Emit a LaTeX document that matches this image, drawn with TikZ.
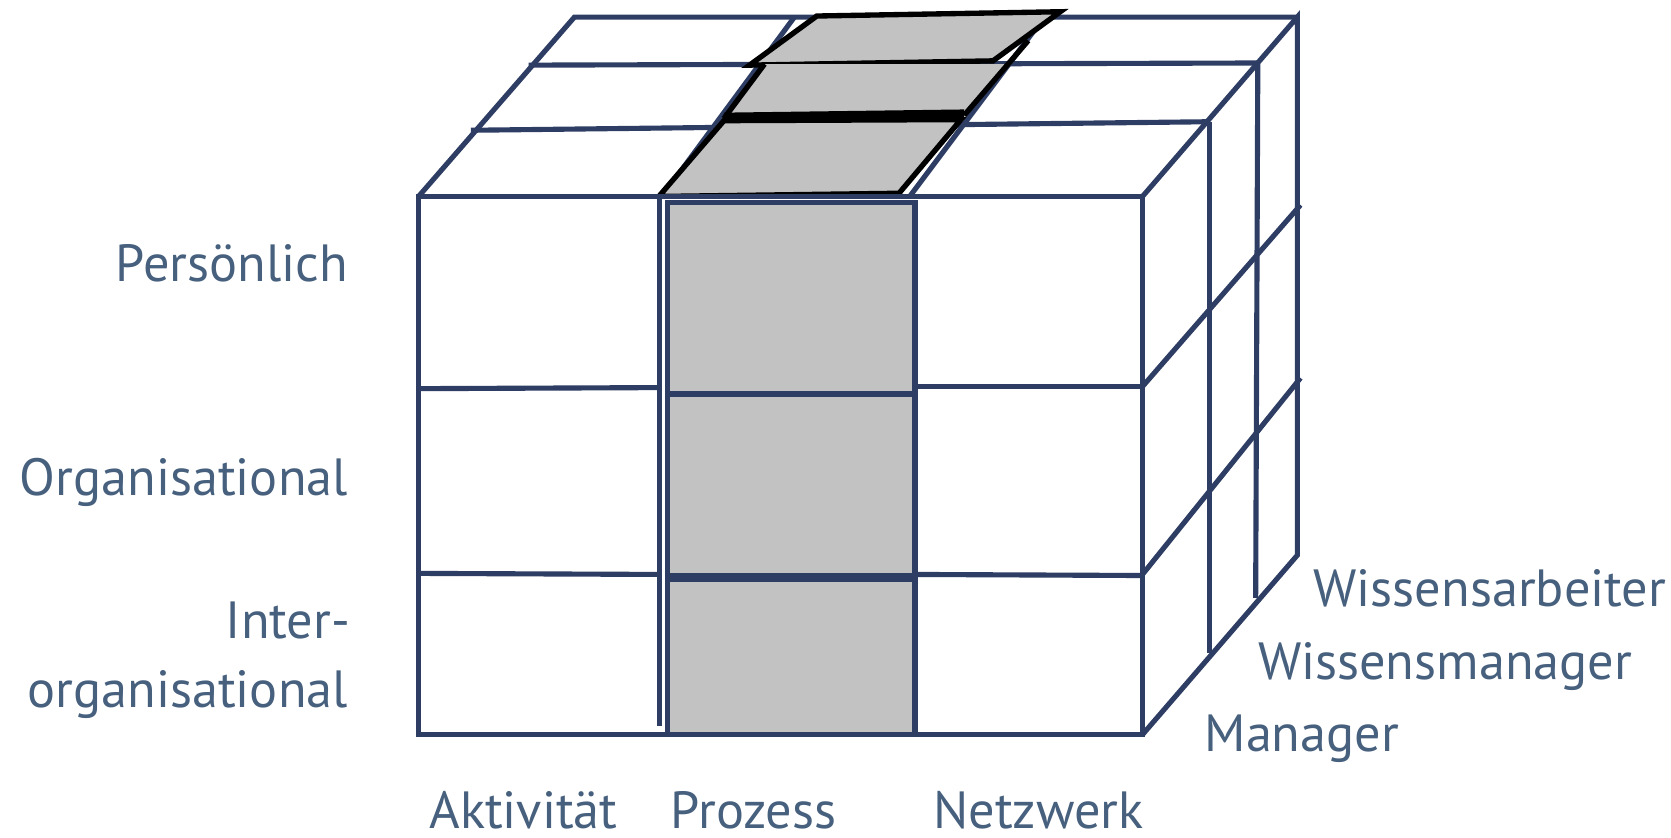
\documentclass[tikz,border=0pt]{standalone}
\usepackage{fontspec}
\setmainfont{PT Sans}
\definecolor{navy}{HTML}{2E3D63}
\definecolor{txt}{HTML}{46607E}
\definecolor{cellgray}{HTML}{C2C2C2}
\begin{document}
\begin{tikzpicture}[x=1pt,y=-1pt,
  grid/.style={draw=navy,line width=4.8pt,line join=miter},
  blk/.style={draw=black,line width=5pt,fill=cellgray,line join=miter},
  lbl/.style={text=txt,font=\fontsize{49}{58}\selectfont,inner sep=0pt,text depth=0pt}]
\useasboundingbox (0,0) rectangle (1565,784);
% top face grid
\draw[grid] (392,184) -- (538,16) -- (1215,16);
\draw[grid] (441,122) -- (1133,114);
\draw[grid] (495,61) -- (1178,59);
\draw[grid] (620,184) -- (744,16);
\draw[grid] (852,184) -- (978,16);
% gray parallelograms on top
\draw[blk] (702,61) -- (930,57) -- (993,11) -- (765,15) -- cycle;
\fill[cellgray] (678,111) -- (903,108) -- (943,60) -- (716,60) -- cycle;
\draw[black,line width=5pt] (716,60) -- (678,111);
\draw[black,line width=5pt] (903,108) -- (963,38);
\draw[blk] (617,184) -- (842,181) -- (900,112) -- (678,113) -- cycle;
\draw[black,line width=9pt] (678,110) -- (903,107);
% front face
\draw[grid,fill=white] (392,184) rectangle (1070,688);
\draw[grid] (618,184) -- (618,680);
\draw[grid] (392,364) -- (618,363);
\draw[grid] (857,362) -- (1070,362);
\draw[grid] (390,537) -- (618,538);
\draw[grid] (857,538) -- (1070,539);
% gray front column
\draw[grid,fill=cellgray] (625,190) rectangle (857,688);
\draw[grid] (625,369) -- (857,369);
\draw[grid,line width=9pt] (625,541) -- (857,541);
% right face
\draw[grid] (1070,184) -- (1215,16) -- (1215,520) -- (1070,688);
\draw[grid] (1070,362) -- (1218,192);
\draw[grid] (1070,538) -- (1218,354);
\draw[grid] (1133,114) -- (1133,612);
\draw[grid] (1178,60) -- (1176,560);
% labels
\node[lbl,anchor=base east] (p) at (326,264) {Persönlich};
\node[lbl,anchor=base east] (o) at (326,464) {Organisational};
\node[lbl,anchor=base east] (i1) at (328,598) {Inter-};
\node[lbl,anchor=base east] (i2) at (326,663) {organisational};
\node[lbl,anchor=base west] (a) at (402,776) {Aktivität};
\node[lbl,anchor=base west] (pr) at (628,776) {Prozess};
\node[lbl,anchor=base west] (n) at (874,776) {Netzwerk};
\node[lbl,anchor=base west] (wa) at (1230,568) {Wissensarbeiter};
\node[lbl,anchor=base west] (wm) at (1178,636) {Wissensmanager};
\node[lbl,anchor=base west] (m) at (1128,704) {Manager};
\end{tikzpicture}
\end{document}
